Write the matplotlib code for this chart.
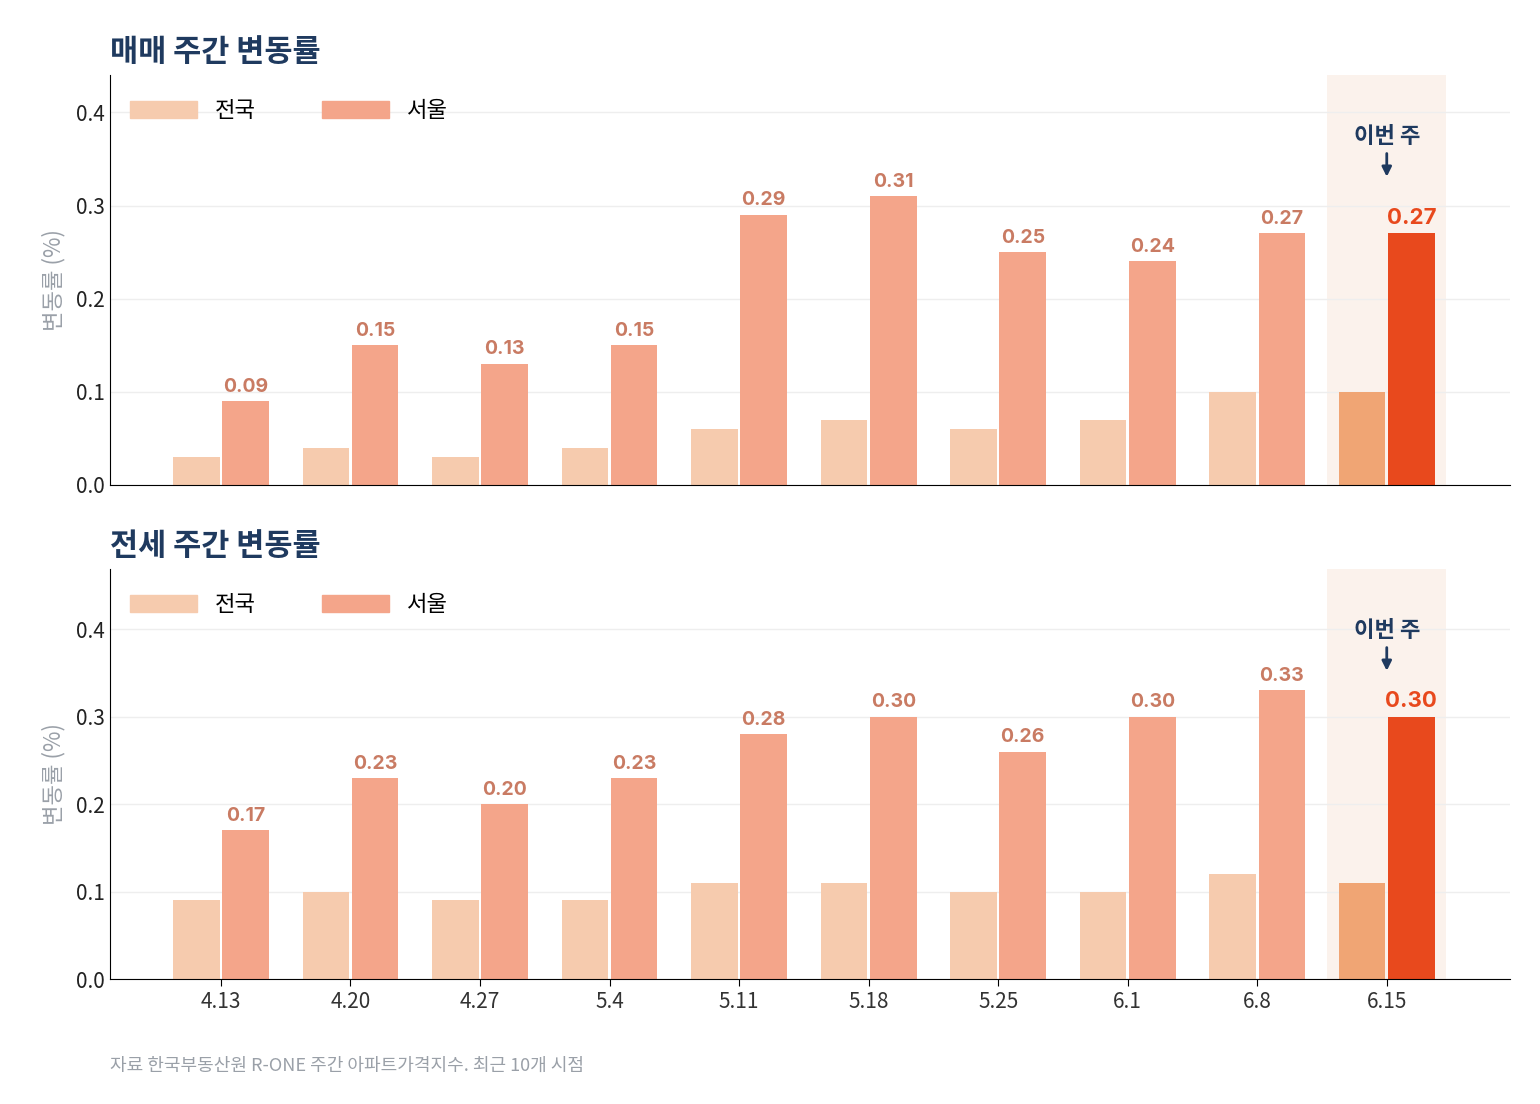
import matplotlib
matplotlib.use("Agg")
from matplotlib import pyplot as plt
import numpy as np

plt.rcParams['font.family'] = ['Noto Sans CJK KR', 'DejaVu Sans']

weeks = ["4.13", "4.20", "4.27", "5.4", "5.11", "5.18", "5.25", "6.1", "6.8", "6.15"]
sale_nation = [0.03, 0.04, 0.03, 0.04, 0.06, 0.07, 0.06, 0.07, 0.10, 0.10]
sale_seoul = [0.09, 0.15, 0.13, 0.15, 0.29, 0.31, 0.25, 0.24, 0.27, 0.27]
jeonse_nation = [0.09, 0.10, 0.09, 0.09, 0.11, 0.11, 0.10, 0.10, 0.12, 0.11]
jeonse_seoul = [0.17, 0.23, 0.20, 0.23, 0.28, 0.30, 0.26, 0.30, 0.33, 0.30]

NAVY = "#1F3A5F"
C_NAT = "#F6CBAE"
C_SEO = "#F4A58A"
C_NAT_HI = "#F0A574"
C_SEO_HI = "#E8491D"
C_LABEL = "#C97B63"

fig = plt.figure(figsize=(15.4, 11.04), dpi=100)
ax1 = fig.add_axes([0.0714, 0.5607, 0.909, 0.3714])
ax2 = fig.add_axes([0.0714, 0.1132, 0.909, 0.3714])


def draw_panel(ax, title, nation, seoul, show_xticks):
    x = np.arange(len(weeks))
    n = len(weeks)
    ymax = max(seoul) * 1.42
    ax.axvspan(n - 1 - 0.46, n - 1 + 0.46, color="#FBF2EC", zorder=0, lw=0)
    nat_colors = [C_NAT] * (n - 1) + [C_NAT_HI]
    seo_colors = [C_SEO] * (n - 1) + [C_SEO_HI]
    ax.bar(x - 0.19, nation, 0.36, color=nat_colors, zorder=2)
    ax.bar(x + 0.19, seoul, 0.36, color=seo_colors, zorder=2)
    for i, v in enumerate(seoul):
        last = i == n - 1
        ax.text(x[i] + 0.19 + (0.0 if not last else 0.0), v + 0.006, f"{v:.2f}",
                ha="center", va="bottom", fontsize=14 if not last else 16, fontweight="bold",
                color=C_SEO_HI if last else C_LABEL, family=["Inter", "DejaVu Sans"])
    # legend proxies
    h1 = plt.Rectangle((0, 0), 1, 1, color=C_NAT)
    h2 = plt.Rectangle((0, 0), 1, 1, color=C_SEO)
    ax.legend([h1, h2], ["전국", "서울"], loc="upper left", ncol=2, frameon=False,
              fontsize=16, handlelength=3.0, handleheight=0.8, columnspacing=3.0,
              bbox_to_anchor=(0.0, 0.99))
    ax.annotate("이번 주", xy=(n - 1, ymax * 0.745), xytext=(n - 1, ymax * 0.85),
                ha="center", va="center", fontsize=16, fontweight="bold", color=NAVY,
                arrowprops=dict(arrowstyle="-|>", color=NAVY, lw=2, mutation_scale=14))
    ax.set_xlim(-0.857, 9.95)
    ax.set_ylim(0, ymax)
    ax.set_yticks([0.0, 0.1, 0.2, 0.3, 0.4])
    ax.set_yticklabels(["0.0", "0.1", "0.2", "0.3", "0.4"])
    ax.grid(axis="y", color="#EEEEEE", lw=1, zorder=0)
    ax.set_axisbelow(True)
    for s in ["top", "right"]:
        ax.spines[s].set_visible(False)
    ax.tick_params(axis="y", length=0, labelsize=15, colors="#222222")
    ax.set_ylabel("변동률 (%)", fontsize=16, color="#9AA0A8", labelpad=8)
    ax.set_xticks(x)
    if show_xticks:
        ax.set_xticklabels(weeks, fontsize=15, color="#333333")
        ax.tick_params(axis="x", length=5)
    else:
        ax.set_xticklabels([])
        ax.tick_params(axis="x", length=0)
    ax.set_title(title, loc="left", fontsize=22, fontweight="bold", color=NAVY, pad=10)


draw_panel(ax1, "매매 주간 변동률", sale_nation, sale_seoul, False)
draw_panel(ax2, "전세 주간 변동률", jeonse_nation, jeonse_seoul, True)

fig.text(0.0714, 0.03, "자료 한국부동산원 R-ONE 주간 아파트가격지수. 최근 10개 시점",
         fontsize=13, color="#9AA0A8")

fig.savefig("out.png")
